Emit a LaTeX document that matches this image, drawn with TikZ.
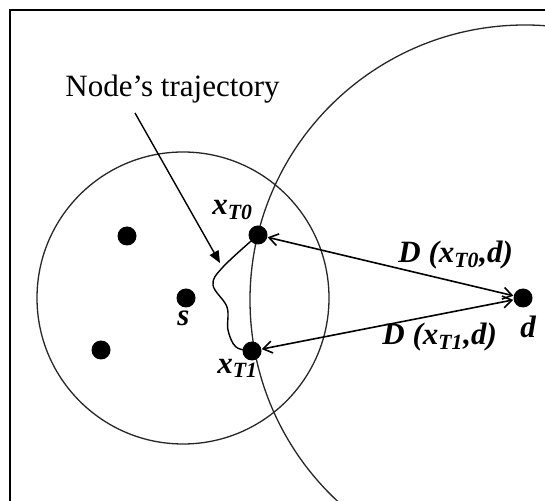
\documentclass[tikz,border=0pt]{standalone}
\usepackage{fontspec}
\setmainfont{Liberation Serif}
\usetikzlibrary{arrows.meta}
\begin{document}
\begin{tikzpicture}[x=0.5pt,y=-0.5pt,
  dot/.style={circle,fill=black,inner sep=0pt,minimum size=9.5pt},
  lbl/.style={inner sep=0pt,font=\fontsize{15.5}{18}\selectfont\bfseries\itshape},
  plain/.style={inner sep=0pt,font=\fontsize{15.5}{18}\selectfont},
  ring/.style={draw=black!85,line width=0.65pt},
  dist/.style={line width=0.8pt,{Straight Barb[length=4.5pt,width=6pt]}-{Straight Barb[length=4.5pt,width=6pt]}},
  pointer/.style={line width=0.7pt,-{Triangle[length=6pt,width=5pt]}},
]
\useasboundingbox (0,0) rectangle (545,501);
\begin{scope}
\clip (0,0) rectangle (545,501);
\draw[line width=1pt] (10,530) -- (10,10) -- (570,10);
\draw[ring] (183,298) circle[radius=146];
\draw[ring] (525,300) circle[radius=275];
\end{scope}
% dots
\node[dot] (a) at (127,236) {};
\node[dot] (s) at (186,298) {};
\node[dot] (b) at (101,350) {};
\node[dot] (x0) at (258,235) {};
\node[dot] (x1) at (252,351) {};
\node[dot] (d) at (523,298) {};
% labels
\node[plain,anchor=base west] (title) at (65,97) {Node’s trajectory};
\node[lbl,anchor=base west] (lx0) at (212,215) {x\textsubscript{T0}};
\node[lbl,anchor=base west] (lx1) at (217,373) {x\textsubscript{T1}};
\node[lbl,anchor=base west] (ls) at (177,326) {s};
\node[lbl,anchor=base west] (ld0) at (398,263) {D (x\textsubscript{T0},d)};
\node[lbl,anchor=base west] (ld1) at (382,345) {D (x\textsubscript{T1},d)};
\node[lbl,anchor=base west] (ld) at (520,338) {d};
% trajectory
\draw[line width=0.7pt] plot[smooth,tension=0.6] coordinates {(258,235) (223,267) (213,285) (227,307) (228,330) (236,347) (252,351)};
% pointer
\coordinate (pstart) at (135,113);
\coordinate (ptip) at (220,263);
\draw[pointer] (pstart) -- (ptip);
% distances
\draw[dist] (x0) -- (d);
\draw[dist] (x1) -- (d);
\end{tikzpicture}
\end{document}
